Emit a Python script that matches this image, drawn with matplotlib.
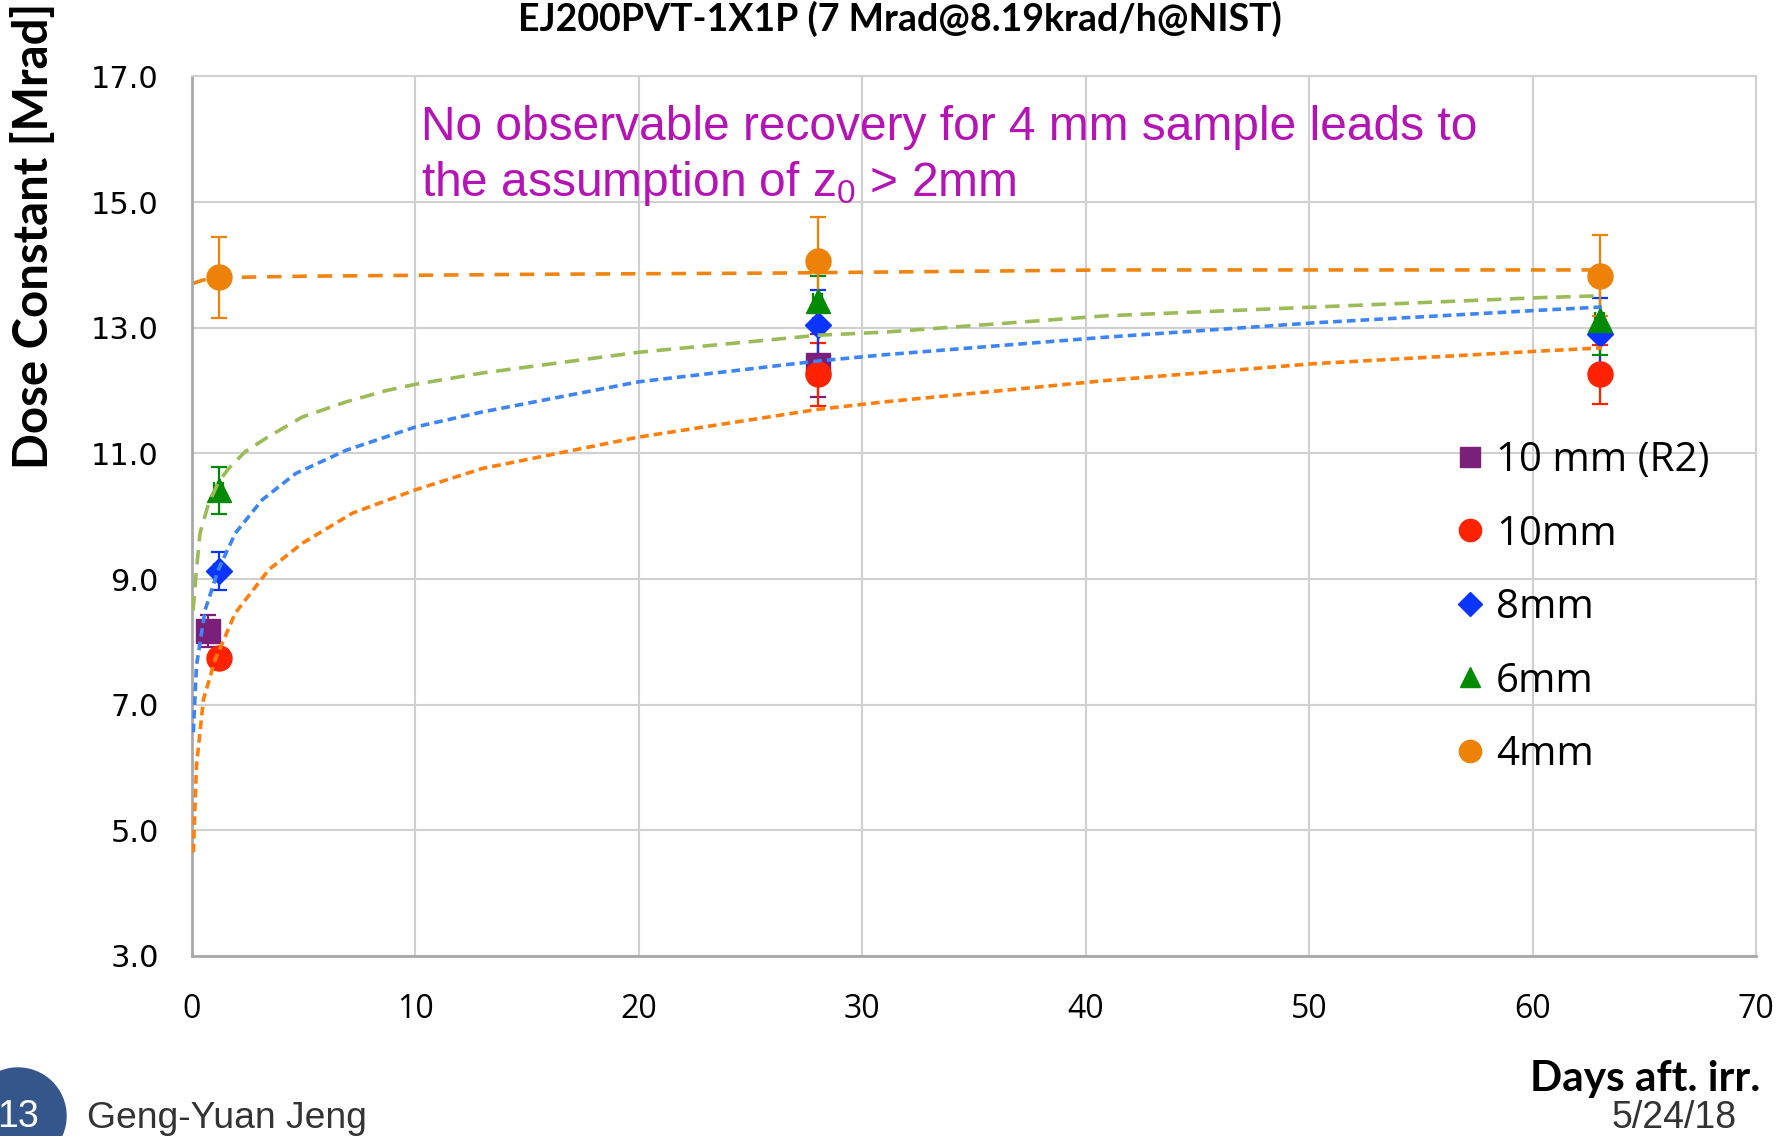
import matplotlib
matplotlib.use('Agg')
import matplotlib.pyplot as plt
from matplotlib.lines import Line2D
from matplotlib.patches import Ellipse

plt.rcParams['mathtext.fontset'] = 'custom'
plt.rcParams['mathtext.rm'] = 'Liberation Sans'
plt.rcParams['mathtext.it'] = 'Liberation Sans:italic'

# measured points: days after irradiation, dose constant [Mrad], error
r2_x = [0.73, 28.0]
r2_y = [8.17, 12.40]
r2_err = [0.25, 0.50]

mm10_x = [1.2, 28.0, 63.0]
mm10_y = [7.75, 12.26, 12.26]
mm10_err = [0.10, 0.50, 0.47]

mm8_x = [1.2, 28.0, 63.0]
mm8_y = [9.13, 13.05, 12.90]
mm8_err = [0.30, 0.55, 0.57]

mm6_x = [1.2, 28.0, 63.0]
mm6_y = [10.41, 13.43, 13.12]
mm6_err = [0.38, 0.40, 0.55]

mm4_x = [1.2, 28.0, 63.0]
mm4_y = [13.80, 14.06, 13.83]
mm4_err = [0.65, 0.70, 0.64]

xerr_days = 0.2

# fitted recovery curves
fit6_x = [0.05, 0.2, 0.36, 0.74, 1.2, 1.64, 2.39, 3.44, 4.94, 6.9, 8.7, 10.0,
          13.0, 20.0, 28.0, 31.0, 40.9, 50.3, 60.4, 63.1]
fit6_y = [8.50, 9.15, 9.73, 10.20, 10.55, 10.76, 11.03, 11.27, 11.58, 11.82, 12.00, 12.10,
          12.28, 12.61, 12.88, 12.93, 13.19, 13.33, 13.48, 13.51]

fit8_x = [0.06, 0.2, 0.59, 1.18, 1.94, 3.14, 4.64, 6.9, 10.0, 13.0, 20.0, 28.0,
          31.0, 40.9, 50.3, 60.4, 63.1]
fit8_y = [6.56, 7.62, 8.51, 9.15, 9.73, 10.26, 10.68, 11.05, 11.42, 11.66, 12.14, 12.47,
          12.57, 12.85, 13.08, 13.28, 13.33]

fit10_x = [0.06, 0.2, 0.51, 1.04, 1.94, 3.44, 4.94, 7.19, 10.0, 13.0, 20.0, 28.0,
           31.0, 40.9, 50.3, 60.4, 63.1]
fit10_y = [4.65, 6.03, 7.08, 7.72, 8.46, 9.15, 9.57, 10.05, 10.42, 10.76, 11.26, 11.70,
           11.82, 12.16, 12.43, 12.63, 12.68]

fit4_x = [0.0, 0.5, 1.5, 5.0, 15.0, 26.0, 41.0, 63.1]
fit4_y = [13.70, 13.76, 13.80, 13.82, 13.85, 13.87, 13.92, 13.92]

labels = ['10 mm (R2)', '10mm', '8mm', '6mm', '4mm']
colors = ['#7A1F7A', '#FF2200', '#0A34FF', '#038A03', '#EE8208']
markers = ['s', 'o', 'D', '^', 'o']
msizes = [17, 18, 13, 17, 18]
leg_sizes = [15, 16, 12, 15, 16]

fig = plt.figure(figsize=(17.91, 11.36), dpi=100)
ax = fig.add_axes([0.1072, 0.1585, 0.8733, 0.7742])

# fits
ax.plot(fit4_x, fit4_y, color='#F08410', lw=2.6, ls=(0, (4.0, 3.0)), zorder=2)
ax.plot(fit6_x, fit6_y, color='#9BBB59', lw=2.6, ls=(0, (4.0, 2.4)), zorder=4)
ax.plot(fit8_x, fit8_y, color='#3D85F5', lw=2.6, ls=(0, (2.4, 1.4)), zorder=4)
ax.plot(fit10_x, fit10_y, color='#FF7F0E', lw=2.6, ls=(0, (2.4, 1.4)), zorder=4)

series = [(r2_x, r2_y, r2_err), (mm10_x, mm10_y, mm10_err), (mm8_x, mm8_y, mm8_err),
          (mm6_x, mm6_y, mm6_err), (mm4_x, mm4_y, mm4_err)]
for (xs, ys, es), c, m, s in zip(series, colors, markers, msizes):
    ax.errorbar(xs, ys, yerr=es, xerr=xerr_days, fmt=m, color=c, ms=s, mec=c,
                elinewidth=1.6, capsize=6, capthick=1.6, zorder=3)

ax.set_xlim(0, 70)
ax.set_ylim(3, 17)
ax.set_xticks(range(0, 71, 10))
ax.set_yticks([3, 5, 7, 9, 11, 13, 15, 17])
ax.set_yticklabels(['%.1f' % v for v in [3, 5, 7, 9, 11, 13, 15, 17]],
                   fontsize=22, family='DejaVu Sans')
ax.set_xticklabels([str(v) for v in range(0, 71, 10)], fontsize=23, family='Open Sans')
ax.tick_params(axis='both', length=0)
ax.tick_params(axis='y', pad=24)
ax.tick_params(axis='x', pad=27)
ax.grid(True, color='#D0D0D0', lw=1.5)
ax.set_axisbelow(True)
for sp in ['left', 'bottom']:
    ax.spines[sp].set_color('#A8A8A8')
    ax.spines[sp].set_linewidth(2)
for sp in ['top', 'right']:
    ax.spines[sp].set_color('#D0D0D0')
    ax.spines[sp].set_linewidth(1.5)

handles = [Line2D([], [], ls='none', marker=m, color=c, ms=s)
           for c, m, s in zip(colors, markers, leg_sizes)]
leg = ax.legend(handles, labels, loc='upper left', bbox_to_anchor=(0.795, 0.609),
                frameon=False, prop={'family': 'Open Sans', 'size': 29},
                handlelength=0.7, handletextpad=0.3, labelspacing=0.82, borderpad=0)

# texts
fig.text(900 / 1791, 1 - 19 / 1136, 'EJ200PVT-1X1P (7 Mrad@8.19krad/h@NIST)',
         ha='center', va='center', fontsize=27, fontweight='bold', family='Lato')
fig.text(34 / 1791, 1 - 236 / 1136, 'Dose Constant [Mrad]', rotation=90,
         ha='center', va='center', fontsize=34, fontweight='bold', family='Lato')
fig.text(421 / 1791, 1 - 127 / 1136, 'No observable recovery for 4 mm sample leads to',
         ha='left', va='center', fontsize=34.5, color='#B414B4', family='Liberation Sans')
fig.text(421 / 1791, 1 - 183 / 1136, r'the assumption of z$_\mathrm{0}$ > 2mm',
         ha='left', va='center', fontsize=34.5, color='#B414B4', family='Liberation Sans')
fig.text(1760 / 1791, 1 - 1079 / 1136, 'Days aft. irr.', ha='right', va='center',
         fontsize=30.5, fontweight='bold', family='Lato')
fig.text(1737 / 1791, 1 - 1118 / 1136, '5/24/18', ha='right', va='center',
         fontsize=27, color='#333333', family='Liberation Sans')

fig.patches.append(Ellipse((18 / 1791, 1 - 1116 / 1136), 96 / 1791, 96 / 1136,
                           transform=fig.transFigure, color='#34568B'))
fig.text(18 / 1791, 1 - 1117 / 1136, '13', ha='center', va='center', fontsize=27,
         color='white', family='Liberation Sans')
fig.text(87 / 1791, 1 - 1118 / 1136, 'Geng-Yuan Jeng', ha='left', va='center',
         fontsize=26.8, color='#333333', family='Liberation Sans')

fig.savefig('out.png', dpi=100)
